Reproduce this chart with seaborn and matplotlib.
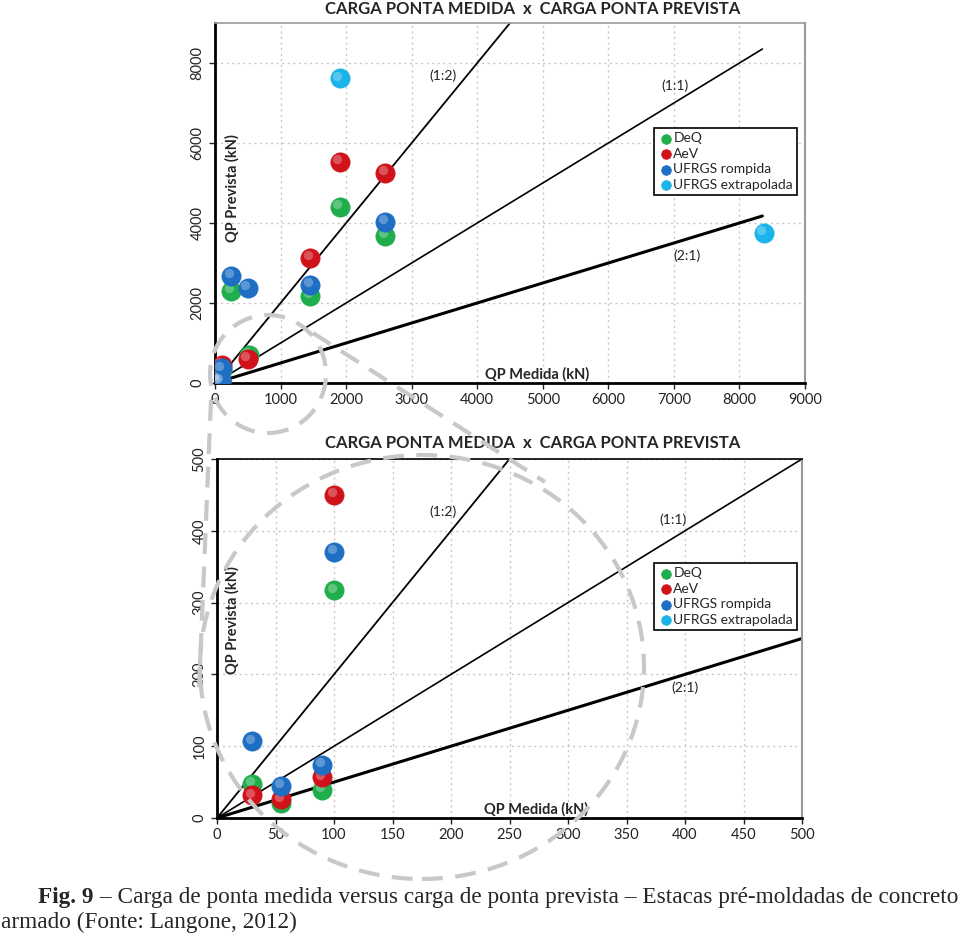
import pandas as pd
import seaborn as sns
import matplotlib.pyplot as plt
from matplotlib.patches import Ellipse
from matplotlib.lines import Line2D
from matplotlib.transforms import offset_copy

# dados (kN)
series = ["DeQ", "AeV", "UFRGS rompida", "UFRGS extrapolada"]
cores = ["#1fae4b", "#d0121b", "#1e6fc4", "#1ab3ea"]

deq_medida = [30, 55, 90, 100, 245, 520, 1450, 1900, 2600]
deq_prevista = [48, 21, 39, 317, 2300, 700, 2175, 4400, 3675]
aev_medida = [30, 55, 90, 100, 500, 1450, 1900, 2600]
aev_prevista = [32, 26, 57, 450, 600, 3125, 5525, 5250]
rompida_medida = [30, 55, 90, 100, 245, 500, 1450, 2600]
rompida_prevista = [107, 45, 74, 371, 2675, 2375, 2450, 4025]
extrap_medida = [1900, 8370]
extrap_prevista = [7625, 3750]

# retas de referência (nome, inclinação)
retas = ["(1:2)", "(1:1)", "(2:1)"]
inclinacoes = [2.0, 1.0, 0.5]

dados = pd.DataFrame({
    "QP Medida (kN)": deq_medida + aev_medida + rompida_medida + extrap_medida,
    "QP Prevista (kN)": deq_prevista + aev_prevista + rompida_prevista + extrap_prevista,
    "Série": (["DeQ"] * len(deq_medida) + ["AeV"] * len(aev_medida)
              + ["UFRGS rompida"] * len(rompida_medida)
              + ["UFRGS extrapolada"] * len(extrap_medida)),
})

sns.set_theme(style="white")
plt.rcParams["font.family"] = ["Lato", "DejaVu Sans"]

W, H = 960, 939
fig = plt.figure(figsize=(W / 100, H / 100), dpi=100)


def px(x, y):
    return (x / W, 1 - y / H)


def grafico(ax, xmax, xstep, ymax, ystep, fim_reta, pos_rotulos, pos_xlabel,
            pos_ylabel, legenda_pos, borda_topo):
    ax.set_xlim(0, xmax)
    ax.set_ylim(0, ymax)
    ax.set_xticks(range(0, xmax + 1, xstep))
    ax.set_yticks(range(0, ymax + 1, ystep))
    ax.grid(True, color="#c8c8c8", linestyle=(0, (1.5, 2.5)), linewidth=1)
    ax.set_axisbelow(True)

    # retas
    for nome, m, lw, (tx, ty) in zip(retas, inclinacoes, [1.3, 1.2, 2.2], pos_rotulos):
        ax.plot([0, fim_reta], [0, m * fim_reta], color="black", lw=lw, zorder=2)
        ax.text(tx, ty, nome, fontsize=10, ha="center", va="center", color="#222222")

    # pontos com um brilho para lembrar esferas
    brilho = offset_copy(ax.transData, fig=fig, x=-2.5, y=2.5, units="dots")
    for serie, cor in zip(series, cores):
        sub = dados[dados["Série"] == serie]
        sns.scatterplot(data=sub, x="QP Medida (kN)", y="QP Prevista (kN)", ax=ax,
                        color=cor, s=190, edgecolor=cor, linewidth=0.6,
                        label=serie, zorder=3)
        ax.scatter(sub["QP Medida (kN)"], sub["QP Prevista (kN)"], s=45,
                   color="white", alpha=0.28, linewidths=0, transform=brilho,
                   zorder=3)

    ax.set_xlabel("")
    ax.set_ylabel("")
    ax.text(pos_xlabel[0], pos_xlabel[1], "QP Medida (kN)", fontsize=10.5,
            fontweight="bold", ha="center", va="bottom")
    ax.text(pos_ylabel[0], pos_ylabel[1], "QP Prevista (kN)", fontsize=10.5,
            fontweight="bold", ha="center", va="center", rotation=90)

    for lado in ["left", "bottom"]:
        ax.spines[lado].set_color("black")
        ax.spines[lado].set_linewidth(2)
    ax.spines["right"].set_color("#9a9a9a")
    ax.spines["right"].set_linewidth(1.5)
    ax.spines["top"].set_color(borda_topo)
    ax.spines["top"].set_linewidth(1.2)

    ax.tick_params(axis="both", direction="out", length=4, width=1,
                   colors="#222222", labelsize=10.5, bottom=True, left=True)
    ax.tick_params(axis="y", labelrotation=90)
    for t in ax.get_yticklabels():
        t.set_va("center")

    leg = ax.legend(loc="upper left", bbox_to_anchor=legenda_pos, frameon=True,
                    fancybox=False, edgecolor="black", framealpha=1,
                    fontsize=10, handletextpad=0.0, borderpad=0.3,
                    labelspacing=0.25, markerscale=0.5, handlelength=1.1,
                    borderaxespad=0)
    leg.get_frame().set_linewidth(1.2)


ax1 = fig.add_axes([215 / W, 1 - 383 / H, 590 / W, 360 / H])
grafico(ax1, 9000, 1000, 9000, 2000, 8350,
        [(3481, 7675), (7023, 7425), (7206, 3175)],
        (4916, 40), (260, 4875), (0.744, 0.708), "#9a9a9a")

ax2 = fig.add_axes([217 / W, 1 - 818 / H, 585 / W, 359 / H])
grafico(ax2, 500, 50, 500, 100, 500,
        [(193, 426), (390, 415), (400, 181)],
        (273, 2), (13, 276), (0.747, 0.710), "black")

# títulos
fig.text(*px(533, 9), "CARGA PONTA MEDIDA  x  CARGA PONTA PREVISTA",
         fontsize=12, fontweight="bold", ha="center", va="center")
fig.text(*px(533, 443), "CARGA PONTA MEDIDA  x  CARGA PONTA PREVISTA",
         fontsize=12, fontweight="bold", ha="center", va="center")

# destaque tracejado (lupa)
estilo = dict(color="#c8c8c8", lw=3, linestyle=(0, (5, 3)))
fig.add_artist(Ellipse(px(268, 374), 116 / W, 118 / H, transform=fig.transFigure,
                       fill=False, zorder=5, **estilo))
fig.add_artist(Ellipse(px(422, 667), 444 / W, 424 / H, transform=fig.transFigure,
                       fill=False, zorder=5, **estilo))
for (xa, ya), (xb, yb) in [((211, 400), (199, 690)), ((313, 333), (545, 482))]:
    pa, pb = px(xa, ya), px(xb, yb)
    fig.add_artist(Line2D([pa[0], pb[0]], [pa[1], pb[1]], transform=fig.transFigure,
                          zorder=5, **estilo))

# legenda da figura
serif = ["Liberation Serif", "DejaVu Serif"]
linha1_a = "Fig. 9"
linha1_b = " – Carga de ponta medida versus carga de ponta prevista – Estacas pré-moldadas de concreto"
linha2 = "armado (Fonte: Langone, 2012)"
renderer = fig.canvas.get_renderer()
fs = 15
t1 = fig.text(*px(38, 903), linha1_a, fontsize=fs, fontweight="bold", family=serif,
              va="baseline")
t2 = fig.text(0, 0, linha1_b, fontsize=fs, family=serif, va="baseline")
for _ in range(3):
    t1.set_fontsize(fs)
    t2.set_fontsize(fs)
    b1 = t1.get_window_extent(renderer)
    t2.set_position((b1.x1 / W, 1 - 903 / H))
    b2 = t2.get_window_extent(renderer)
    fs = fs * (957 - 38) / (b2.x1 - b1.x0)
t3 = fig.text(*px(1, 928), linha2, fontsize=fs, family=serif, va="baseline")

fig.savefig("out.png", dpi=100)
